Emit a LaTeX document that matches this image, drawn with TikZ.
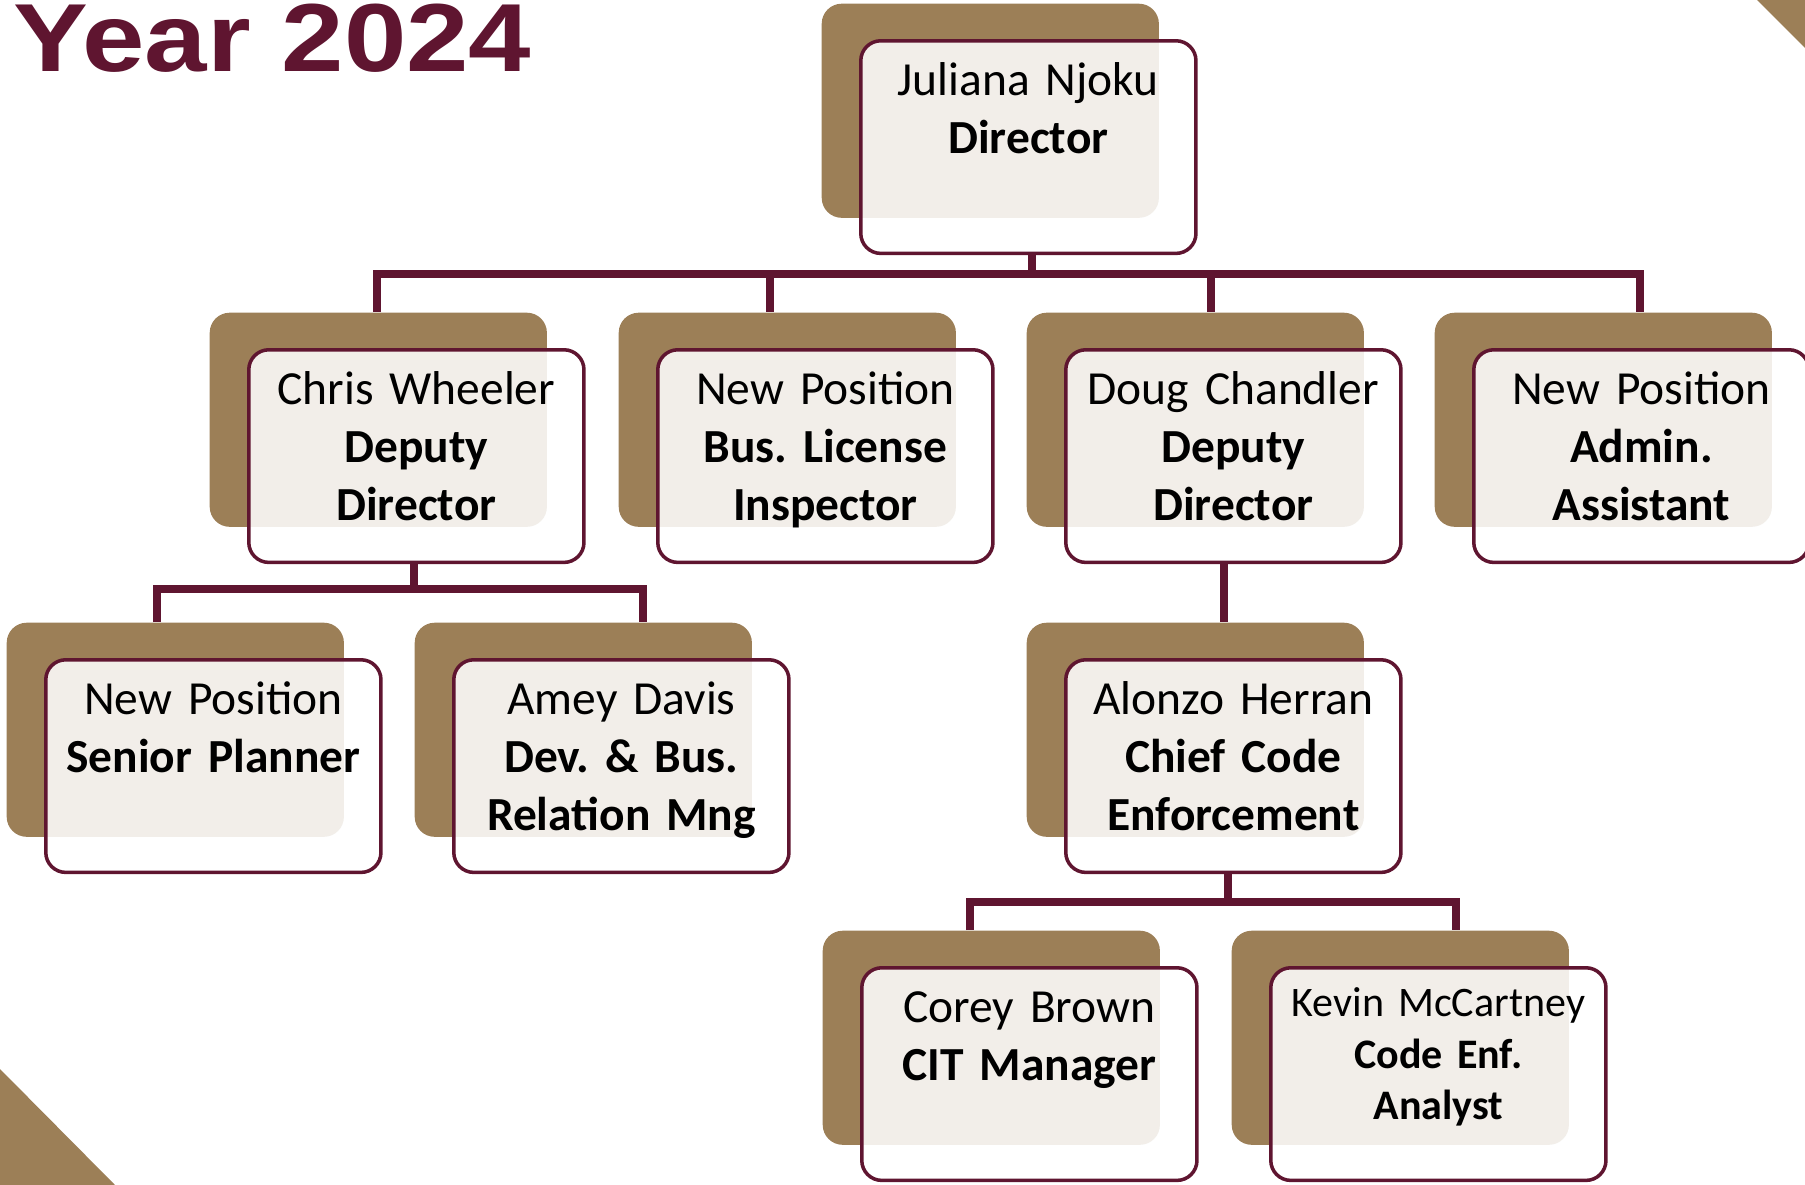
\documentclass[tikz,border=0pt]{standalone}
\usepackage{fontspec}
\setmainfont{Carlito}
\newfontfamily\headfont[FakeStretch=1.16]{Liberation Sans}
\usepackage{tikz}
\usetikzlibrary{positioning}
\definecolor{cardtan}{HTML}{9C7F57}
\definecolor{cardred}{HTML}{5F1530}
\tikzset{
    backcard/.style={
           rectangle,
           rounded corners=0.2cm,
           fill=cardtan,
           minimum width=3.37cm,
           minimum height=2.14cm,
           inner sep=0pt,
           anchor=north west,
           },
    frontcard/.style={
           rectangle,
           rounded corners=0.2cm,
           draw=cardred, line width=1pt,
           fill=white, fill opacity=0.87, text opacity=1,
           text width=3.35cm,
           align=center,
           inner sep=0pt,
           text height=0.55cm,
           text depth=1.575cm,
           font=\fontsize{13.5pt}{16.4pt}\selectfont\frenchspacing,
           },
    link/.style={
           draw=cardred,
           line width=2pt,
           },
}

\begin{document}
\begin{tikzpicture}[x=0.01cm, y=-0.01cm]
    \useasboundingbox (0,0) rectangle (1805,1185);

    % corner wedges
    \fill[cardtan] (1757,0) -- (1805,0) -- (1805,48) -- cycle;
    \fill[cardtan] (0,1069) -- (0,1185) -- (115,1185) -- cycle;

    % title (cut by the top edge)
    \node[anchor=base west, inner sep=0pt, text=cardred,
    font=\headfont\bfseries\fontsize{27.5pt}{31pt}\selectfont] (title)
    at (13,72) {Year 2024};

    % Level 1: director
    \node[backcard] (dirB) at (821,3) {};
    \node[frontcard,
    below right=0.36cm and 0.38cm of dirB.north west] (dirF)
    {Juliana Njoku\\\textbf{Director}};

    % Level 2
    \node[backcard] (chrisB) at (209,312) {};
    \node[frontcard,
    below right=0.36cm and 0.38cm of chrisB.north west] (chrisF)
    {Chris Wheeler\\\textbf{Deputy}\\\textbf{Director}};

    \node[backcard] (licB) at (618,312) {};
    \node[frontcard,
    below right=0.36cm and 0.38cm of licB.north west] (licF)
    {New Position\\\textbf{Bus. License}\\\textbf{Inspector}};

    \node[backcard] (dougB) at (1026,312) {};
    \node[frontcard,
    below right=0.36cm and 0.38cm of dougB.north west] (dougF)
    {Doug Chandler\\\textbf{Deputy}\\\textbf{Director}};

    \node[backcard] (adminB) at (1434,312) {};
    \node[frontcard,
    below right=0.36cm and 0.38cm of adminB.north west] (adminF)
    {New Position\\\textbf{Admin.}\\\textbf{Assistant}};

    % Level 3
    \node[backcard] (seniorB) at (6,622) {};
    \node[frontcard,
    below right=0.36cm and 0.38cm of seniorB.north west] (seniorF)
    {New Position\\\textbf{Senior Planner}};

    \node[backcard] (ameyB) at (414,622) {};
    \node[frontcard,
    below right=0.36cm and 0.38cm of ameyB.north west] (ameyF)
    {Amey Davis\\\textbf{Dev. \& Bus.}\\\textbf{Relation Mng}};

    \node[backcard] (alonzoB) at (1026,622) {};
    \node[frontcard,
    below right=0.36cm and 0.38cm of alonzoB.north west] (alonzoF)
    {Alonzo Herran\\\textbf{Chief Code}\\\textbf{Enforcement}};

    % Level 4
    \node[backcard] (coreyB) at (822,930) {};
    \node[frontcard,
    below right=0.36cm and 0.38cm of coreyB.north west] (coreyF)
    {Corey Brown\\\textbf{CIT Manager}};

    \node[backcard] (kevinB) at (1231,930) {};
    \node[frontcard,
    text height=0.485cm, text depth=1.64cm,    % smaller text here
    font=\fontsize{11.95pt}{14.7pt}\selectfont\frenchspacing,
    below right=0.36cm and 0.38cm of kevinB.north west] (kevinF)
    {Kevin McCartney\\\textbf{Code Enf.}\\\textbf{Analyst}};

    % junctions of the connector lines
    \coordinate (jDir) at (1032,274);
    \coordinate (jChris) at (377,274);
    \coordinate (jLic) at (770,274);
    \coordinate (jDoug) at (1211,274);
    \coordinate (jAdmin) at (1640,274);
    \coordinate (kChris) at (414,589);
    \coordinate (kSenior) at (157,589);
    \coordinate (kAmey) at (643,589);
    \coordinate (kDoug) at (1224,589);
    \coordinate (mAlonzo) at (1228,902);
    \coordinate (mCorey) at (970,902);
    \coordinate (mKevin) at (1456,902);

    % draw the connectors
    \draw[link] (jDir |- dirF.south) -- (jDir);
    \draw[link] (jChris |- chrisB.north) -- (jChris) -- (jAdmin)
        -- (jAdmin |- adminB.north);
    \draw[link] (jLic) -- (jLic |- licB.north);
    \draw[link] (jDoug) -- (jDoug |- dougB.north);

    \draw[link] (kChris |- chrisF.south) -- (kChris);
    \draw[link] (kSenior |- seniorB.north) -- (kSenior) -- (kAmey)
        -- (kAmey |- ameyB.north);
    \draw[link] (kDoug |- dougF.south) -- (kDoug |- alonzoB.north);

    \draw[link] (mAlonzo |- alonzoF.south) -- (mAlonzo);
    \draw[link] (mCorey |- coreyB.north) -- (mCorey) -- (mKevin)
        -- (mKevin |- kevinB.north);
\end{tikzpicture}
\end{document}
